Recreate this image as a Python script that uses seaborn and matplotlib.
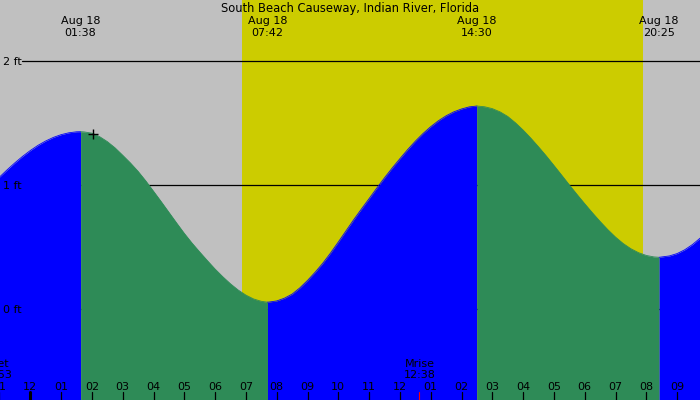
import numpy as np
import pandas as pd
import matplotlib
matplotlib.use("Agg")
import matplotlib.pyplot as plt
import matplotlib.transforms as mtransforms
import seaborn as sns

# tide height every quarter hour
# (hours after midnight Aug 18, feet); high/low times included
tide_hours = [-1.0, -0.75, -0.5, -0.25, 0.0, 0.25, 0.5, 0.75, 1.0, 1.25, 1.5,
              1.633, 1.75, 2.0, 2.25, 2.5, 2.75, 3.0, 3.25, 3.5, 3.75, 4.0,
              4.25, 4.5, 4.75, 5.0, 5.25, 5.5, 5.75, 6.0, 6.25, 6.5, 6.75,
              7.0, 7.25, 7.5, 7.7, 7.75, 8.0, 8.25, 8.5, 8.75, 9.0, 9.25,
              9.5, 9.75, 10.0, 10.25, 10.5, 10.75, 11.0, 11.25, 11.5, 11.75,
              12.0, 12.25, 12.5, 12.75, 13.0, 13.25, 13.5, 13.75, 14.0, 14.25,
              14.5, 14.75, 15.0, 15.25, 15.5, 15.75, 16.0, 16.25, 16.5, 16.75,
              17.0, 17.25, 17.5, 17.75, 18.0, 18.25, 18.5, 18.75, 19.0, 19.25,
              19.5, 19.75, 20.0, 20.25, 20.417, 20.75, 21.0, 21.25, 21.5,
              21.75, 22.0]
tide_feet = [1.064, 1.123, 1.179, 1.231, 1.278, 1.320, 1.355, 1.384, 1.406,
             1.421, 1.429, 1.430, 1.428, 1.418, 1.390, 1.350, 1.300, 1.240,
             1.178, 1.110, 1.033, 0.950, 0.866, 0.780, 0.694, 0.610, 0.532,
             0.460, 0.390, 0.322, 0.260, 0.203, 0.153, 0.112, 0.081, 0.062,
             0.055, 0.056, 0.065, 0.087, 0.120, 0.170, 0.230, 0.297, 0.370,
             0.452, 0.540, 0.630, 0.720, 0.806, 0.890, 0.975, 1.058, 1.137,
             1.212, 1.285, 1.353, 1.415, 1.470, 1.518, 1.558, 1.590, 1.613,
             1.630, 1.637, 1.631, 1.616, 1.590, 1.553, 1.502, 1.443, 1.378,
             1.308, 1.235, 1.158, 1.080, 1.001, 0.924, 0.849, 0.776, 0.706,
             0.640, 0.580, 0.528, 0.486, 0.454, 0.432, 0.420, 0.417, 0.428,
             0.447, 0.478, 0.520, 0.572, 0.630]

# high and low water
extreme_hours = [1.633, 7.7, 14.5, 20.417]
extreme_labels = ["01:38", "07:42", "14:30", "20:25"]
extreme_date = "Aug 18"

sunrise_hour = 6.87
sunset_hour = 19.89

moon_hours = [-1.12, 12.633]
moon_labels = ["Mset\n22:53", "Mrise\n12:38"]

tick_hours = list(range(-1, 22))
tick_labels = ["11", "12", "01", "02", "03", "04", "05", "06", "07", "08",
               "09", "10", "11", "12", "01", "02", "03", "04", "05", "06",
               "07", "08", "09"]
midnight_hour = 0

level_feet = [0, 1, 2]
level_labels = ["0 ft", "1 ft", "2 ft"]

mark_hour = [2.05]
mark_feet = [1.41]

title = "South Beach Causeway, Indian River, Florida"

sns.set_style("white")
plt.rcParams["font.family"] = ["DejaVu Sans"]
plt.rcParams["text.color"] = "black"

W, H = 700, 400
px_per_hour = 30.8
px_per_foot = 124
x0_px = 30.3   # midnight
y0_px = 309    # 0 ft

fig = plt.figure(figsize=(7, 4), dpi=100)
fig.patch.set_facecolor("#c0c0c0")
ax = fig.add_axes([0, 0, 1, 1])
ax.set_xlim(-x0_px / px_per_hour, (W - x0_px) / px_per_hour)
ax.set_ylim(-(H - y0_px) / px_per_foot, y0_px / px_per_foot)
ax.axis("off")
y_bottom = ax.get_ylim()[0]

def fy(py):
    return 1 - py / H

xd_ya = mtransforms.blended_transform_factory(ax.transData, ax.transAxes)
xa_yd = mtransforms.blended_transform_factory(ax.transAxes, ax.transData)

# daylight
ax.axvspan(sunrise_hour, sunset_hour, color="#cccc00", lw=0, zorder=0)

# reference levels (hidden under the water)
for lv in level_feet:
    ax.axhline(lv, xmin=22 / W, color="black", lw=0.9, zorder=1)

# water, blue while rising, green while falling
df = pd.DataFrame({"hour": tide_hours, "feet": tide_feet})
bounds = [tide_hours[0]] + extreme_hours + [tide_hours[-1]]
for k in range(len(bounds) - 1):
    seg = df[(df["hour"] >= bounds[k]) & (df["hour"] <= bounds[k + 1])]
    col = "#0000ff" if k % 2 == 0 else "#2e8b57"
    ax.fill_between(seg["hour"], seg["feet"], y_bottom, color=col, lw=0, zorder=2)
    sns.lineplot(data=seg, x="hour", y="feet", color=col, lw=0.6, ax=ax,
                 zorder=3, sort=False)

sns.scatterplot(x=mark_hour, y=mark_feet, marker="+", color="black", s=60,
                linewidth=1.0, ax=ax, zorder=6)

fs = 8
# level labels
for lv, lab in zip(level_feet, level_labels):
    ax.text(3 / W, lv - 4 / px_per_foot, lab, transform=xa_yd, fontsize=fs,
            ha="left", va="baseline", color="black", zorder=5)

# title and tide times
ax.text(0.5, fy(11.7), title, transform=ax.transAxes, fontsize=8.3,
        ha="center", va="baseline", color="black", zorder=5)
for hr, lab in zip(extreme_hours, extreme_labels):
    ax.text(hr, fy(24), extreme_date, transform=xd_ya, fontsize=fs,
            ha="center", va="baseline", color="black", zorder=5)
    ax.text(hr, fy(36), lab, transform=xd_ya, fontsize=fs,
            ha="center", va="baseline", color="black", zorder=5)

# moon
for hr, lab in zip(moon_hours, moon_labels):
    top, bot = lab.split("\n")
    ax.text(hr, fy(366.7), top, transform=xd_ya, fontsize=fs,
            ha="center", va="baseline", color="black", zorder=5)
    ax.text(hr, fy(378.3), bot, transform=xd_ya, fontsize=fs,
            ha="center", va="baseline", color="black", zorder=5)

# hour ticks
for hr, lab in zip(tick_hours, tick_labels):
    ax.text(hr, fy(390), lab, transform=xd_ya, fontsize=fs,
            ha="center", va="baseline", color="black", zorder=5)
    lw = 2.2 if hr == midnight_hour else 0.9
    ax.axvline(hr, ymin=0, ymax=8 / H, color="black", lw=lw, zorder=5)
ax.axvline(moon_hours[1], ymin=0, ymax=8 / H, color="red", lw=0.8, zorder=5)

fig.savefig("out.png", dpi=100, facecolor=fig.get_facecolor())
